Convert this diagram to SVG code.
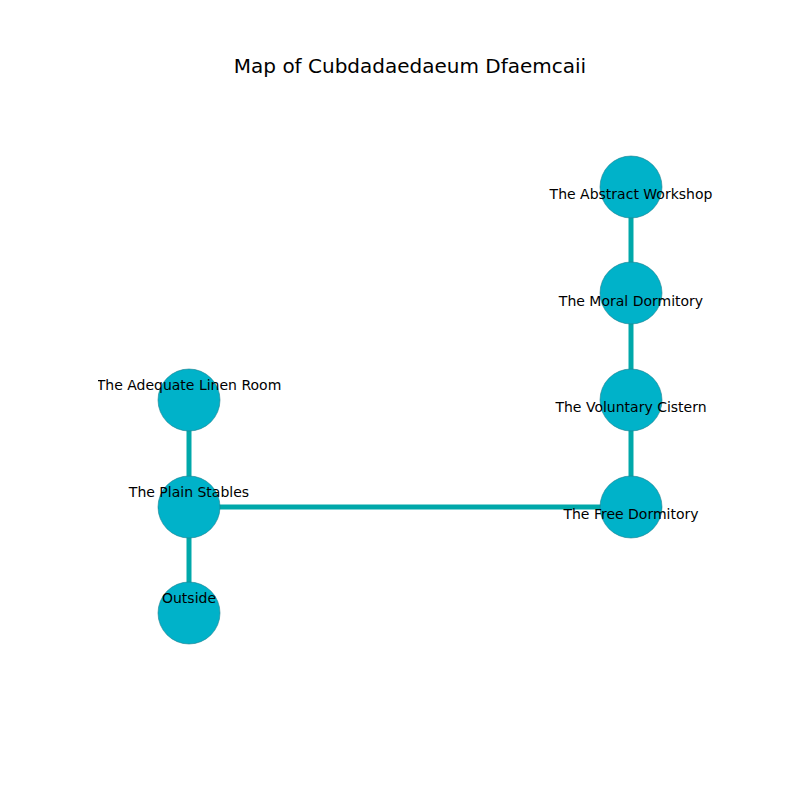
<svg xmlns="http://www.w3.org/2000/svg" width="800" height="800" viewBox="0 0 800 800">
<style>
.edge{stroke:#00a8aa;stroke-width:5;fill:none}
.node circle{fill:#00b2c9;stroke:#1f7f8f;stroke-width:0.6}
.lbl{font-family:"DejaVu Sans",sans-serif;font-size:14px;fill:#000;text-anchor:middle}
.title{font-family:"DejaVu Sans",sans-serif;font-size:20px;fill:#000;text-anchor:middle}
</style>
<defs><clipPath id="ax"><rect x="98" y="0" width="702" height="800"/></clipPath></defs>
<rect width="800" height="800" fill="#fff"/>
<text class="title" x="410" y="73">Map of Cubdadaedaeum Dfaemcaii</text>
<g id="connectors">
<line class="edge" x1="631" y1="187" x2="631" y2="293"/>
<line class="edge" x1="631" y1="293" x2="631" y2="400"/>
<line class="edge" x1="631" y1="400" x2="631" y2="507"/>
<line class="edge" x1="189" y1="507" x2="631" y2="507"/>
<line class="edge" x1="189" y1="400" x2="189" y2="507"/>
<line class="edge" x1="189" y1="507" x2="189" y2="613"/>
</g>
<g id="abstract-workshop" class="node"><circle cx="631" cy="187" r="31"/><text class="lbl" x="631" y="199">The Abstract Workshop</text></g>
<g id="moral-dormitory" class="node"><circle cx="631" cy="293" r="31"/><text class="lbl" x="631" y="306">The Moral Dormitory</text></g>
<g id="voluntary-cistern" class="node"><circle cx="631" cy="400" r="31"/><text class="lbl" x="631" y="412">The Voluntary Cistern</text></g>
<g id="free-dormitory" class="node"><circle cx="631" cy="507" r="31"/><text class="lbl" x="631" y="519">The Free Dormitory</text></g>
<g id="adequate-linen-room" class="node"><circle cx="189" cy="400" r="31"/><text class="lbl" x="189" y="390" clip-path="url(#ax)">The Adequate Linen Room</text></g>
<g id="plain-stables" class="node"><circle cx="189" cy="507" r="31"/><text class="lbl" x="189" y="497">The Plain Stables</text></g>
<g id="outside" class="node"><circle cx="189" cy="613" r="31"/><text class="lbl" x="189" y="603">Outside</text></g>
</svg>
